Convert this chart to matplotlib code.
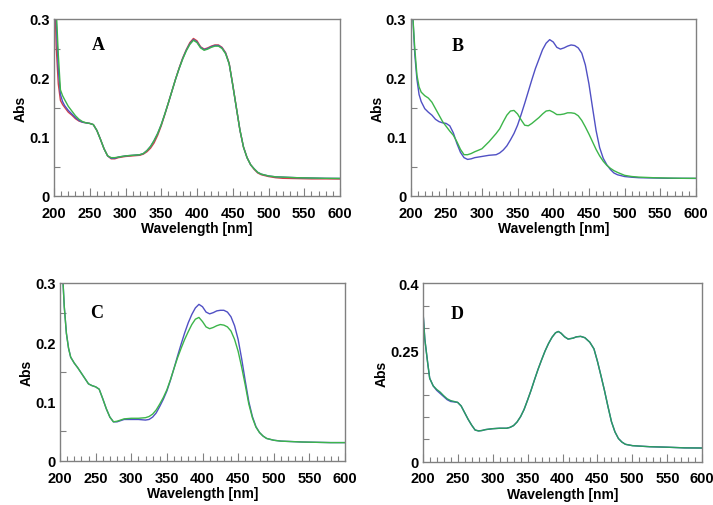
import matplotlib
matplotlib.use("Agg")
import matplotlib.pyplot as plt
from matplotlib.ticker import MultipleLocator, FixedLocator

# ---------------- data ----------------
wl = [200, 203, 206, 209, 212, 215, 220, 225, 230, 235, 240, 245, 250, 255, 260, 265,
      270, 275, 280, 285, 290, 300, 310, 320, 325, 330, 335, 340, 345, 350, 355, 360,
      365, 370, 375, 380, 385, 390, 395, 400, 405, 410, 415, 420, 425, 430, 435, 440,
      445, 450, 455, 460, 465, 470, 475, 480, 485, 490, 500, 510, 520, 540, 560, 580, 600]

a_blue = [0.40, 0.30, 0.215, 0.172, 0.160, 0.153, 0.145, 0.139, 0.133, 0.128, 0.125, 0.124, 0.123, 0.121, 0.111, 0.096,
          0.080, 0.068, 0.064, 0.064, 0.066, 0.068, 0.069, 0.070, 0.072, 0.077, 0.084, 0.094, 0.106, 0.121, 0.139, 0.158,
          0.178, 0.198, 0.216, 0.233, 0.247, 0.258, 0.265, 0.261, 0.252, 0.248, 0.250, 0.253, 0.255, 0.255, 0.251, 0.242,
          0.224, 0.188, 0.150, 0.112, 0.083, 0.065, 0.053, 0.046, 0.040, 0.037, 0.034, 0.0325, 0.032, 0.031, 0.0305, 0.030, 0.0298]
a_red = [0.40, 0.255, 0.190, 0.162, 0.155, 0.150, 0.142, 0.137, 0.131, 0.127, 0.125, 0.124, 0.123, 0.121, 0.111, 0.096,
         0.080, 0.068, 0.063, 0.063, 0.065, 0.067, 0.068, 0.069, 0.071, 0.075, 0.081, 0.090, 0.103, 0.119, 0.138, 0.158,
         0.178, 0.198, 0.217, 0.234, 0.248, 0.260, 0.267, 0.263, 0.253, 0.249, 0.251, 0.254, 0.256, 0.256, 0.252, 0.243,
         0.225, 0.189, 0.150, 0.112, 0.083, 0.065, 0.053, 0.045, 0.039, 0.036, 0.033, 0.031, 0.030, 0.0295, 0.029, 0.029, 0.0288]
a_green = [0.40, 0.32, 0.240, 0.180, 0.170, 0.163, 0.152, 0.144, 0.136, 0.130, 0.126, 0.124, 0.123, 0.121, 0.111, 0.096,
           0.080, 0.068, 0.065, 0.065, 0.066, 0.068, 0.069, 0.070, 0.072, 0.077, 0.084, 0.094, 0.106, 0.121, 0.139, 0.158,
           0.178, 0.198, 0.216, 0.232, 0.246, 0.257, 0.264, 0.260, 0.251, 0.247, 0.249, 0.252, 0.254, 0.254, 0.250, 0.241,
           0.224, 0.188, 0.150, 0.112, 0.083, 0.065, 0.053, 0.046, 0.040, 0.037, 0.034, 0.0325, 0.032, 0.031, 0.0305, 0.030, 0.0298]

b_blue = [0.40, 0.31, 0.240, 0.198, 0.172, 0.160, 0.148, 0.142, 0.137, 0.130, 0.126, 0.124, 0.123, 0.119, 0.107, 0.089,
          0.074, 0.065, 0.062, 0.063, 0.065, 0.067, 0.069, 0.070, 0.073, 0.078, 0.085, 0.095, 0.106, 0.120, 0.138, 0.157,
          0.177, 0.197, 0.216, 0.232, 0.248, 0.259, 0.265, 0.261, 0.252, 0.249, 0.251, 0.254, 0.256, 0.255, 0.251, 0.242,
          0.222, 0.190, 0.150, 0.111, 0.082, 0.064, 0.053, 0.045, 0.039, 0.036, 0.033, 0.0318, 0.031, 0.0305, 0.030, 0.030, 0.0298]
b_green = [0.40, 0.31, 0.250, 0.205, 0.185, 0.176, 0.170, 0.166, 0.159, 0.148, 0.137, 0.126, 0.118, 0.110, 0.103, 0.092,
           0.079, 0.070, 0.070, 0.072, 0.075, 0.080, 0.092, 0.106, 0.114, 0.126, 0.137, 0.144, 0.145, 0.139, 0.129, 0.120,
           0.119, 0.123, 0.128, 0.133, 0.139, 0.144, 0.145, 0.142, 0.138, 0.138, 0.139, 0.141, 0.141, 0.140, 0.136, 0.128,
           0.117, 0.105, 0.092, 0.079, 0.068, 0.059, 0.052, 0.047, 0.043, 0.040, 0.035, 0.033, 0.032, 0.031, 0.0305, 0.030, 0.030]

c_blue = [0.40, 0.33, 0.260, 0.215, 0.190, 0.175, 0.165, 0.157, 0.148, 0.139, 0.130, 0.127, 0.125, 0.121, 0.105, 0.088,
          0.074, 0.066, 0.066, 0.068, 0.070, 0.070, 0.070, 0.069, 0.070, 0.074, 0.081, 0.092, 0.104, 0.118, 0.136, 0.156,
          0.177, 0.197, 0.216, 0.233, 0.247, 0.258, 0.264, 0.260, 0.251, 0.248, 0.250, 0.253, 0.254, 0.254, 0.251, 0.243,
          0.228, 0.205, 0.172, 0.135, 0.100, 0.075, 0.058, 0.048, 0.042, 0.038, 0.035, 0.0335, 0.033, 0.032, 0.0315, 0.031, 0.031]
c_green = [0.40, 0.33, 0.260, 0.215, 0.190, 0.175, 0.165, 0.157, 0.148, 0.139, 0.130, 0.127, 0.125, 0.121, 0.105, 0.088,
           0.074, 0.066, 0.067, 0.069, 0.071, 0.072, 0.072, 0.073, 0.075, 0.079, 0.086, 0.096, 0.107, 0.120, 0.137, 0.156,
           0.174, 0.190, 0.205, 0.218, 0.230, 0.239, 0.242, 0.235, 0.226, 0.223, 0.225, 0.228, 0.230, 0.229, 0.226, 0.219,
           0.205, 0.185, 0.158, 0.128, 0.096, 0.073, 0.057, 0.048, 0.042, 0.038, 0.035, 0.0335, 0.033, 0.032, 0.0315, 0.031, 0.031]

wl_d = [200, 203, 207, 210, 215, 220, 225, 230, 235, 240, 245, 250, 255, 260, 265, 270, 275, 280,
        285, 290, 300, 310, 320, 325, 330, 335, 340, 345, 350, 355, 360, 365, 370, 375, 380, 385,
        390, 394, 398, 403, 408, 415, 420, 426, 432, 439, 445, 450, 455, 460, 465, 470, 475, 480,
        485, 490, 500, 510, 525, 550, 575, 600]
d_blue = [0.346, 0.275, 0.223, 0.187, 0.170, 0.160, 0.153, 0.146, 0.139, 0.135, 0.134, 0.133, 0.125, 0.110, 0.095, 0.082, 0.071, 0.069,
          0.070, 0.072, 0.074, 0.075, 0.075, 0.077, 0.081, 0.089, 0.101, 0.117, 0.138, 0.160, 0.184, 0.207, 0.228, 0.248, 0.265, 0.279,
          0.289, 0.292, 0.288, 0.280, 0.275, 0.277, 0.280, 0.281, 0.278, 0.268, 0.253, 0.225, 0.193, 0.160, 0.124, 0.090, 0.067, 0.052,
          0.044, 0.039, 0.036, 0.035, 0.0336, 0.0325, 0.031, 0.0307]
d_green = [0.346, 0.275, 0.223, 0.187, 0.170, 0.162, 0.156, 0.148, 0.141, 0.137, 0.135, 0.133, 0.125, 0.110, 0.095, 0.082, 0.071, 0.069,
           0.070, 0.072, 0.074, 0.075, 0.075, 0.077, 0.081, 0.089, 0.101, 0.117, 0.138, 0.160, 0.184, 0.207, 0.228, 0.248, 0.265, 0.279,
           0.289, 0.292, 0.288, 0.280, 0.275, 0.277, 0.280, 0.281, 0.278, 0.268, 0.253, 0.225, 0.193, 0.160, 0.124, 0.090, 0.067, 0.052,
           0.044, 0.039, 0.036, 0.035, 0.0336, 0.0325, 0.031, 0.0307]

x_ticks = [200, 250, 300, 350, 400, 450, 500, 550, 600]
abc_yticks = [0, 0.1, 0.2, 0.3]
abc_ylabels = ["0", "0.1", "0.2", "0.3"]
d_yticks = [0, 0.25, 0.4]
d_ylabels = ["0", "0.25", "0.4"]
panel_names = ["A", "B", "C", "D"]

# ---------------- style ----------------
BLUE = "#5050c4"
GREEN = "#3cb54a"
RED = "#d2404a"
DGREEN = "#2a9e5e"
SPINE = "#808080"
SANS = ["Liberation Sans", "DejaVu Sans"]
SERIF = ["Liberation Serif", "DejaVu Serif"]

fig = plt.figure(figsize=(7.13, 5.06), dpi=100)
W, H = 713, 506

def make_ax(l, t, r, b):
    return fig.add_axes([l / W, 1 - b / H, (r - l) / W, (b - t) / H])

axA = make_ax(54, 20, 340, 197)
axB = make_ax(410.5, 20, 696, 197)
axC = make_ax(60, 284, 345, 462)
axD = make_ax(422.7, 284.3, 702.3, 462.7)

def style(ax, ymax, yticks, ylabels, yminor):
    ax.set_xlim(200, 600)
    ax.set_ylim(0, ymax)
    for s in ax.spines.values():
        s.set_color(SPINE)
        s.set_linewidth(1.0)
    ax.xaxis.set_major_locator(FixedLocator(x_ticks))
    ax.xaxis.set_minor_locator(MultipleLocator(10))
    ax.set_xticklabels([str(v) for v in x_ticks])
    ax.yaxis.set_major_locator(FixedLocator(yticks))
    ax.set_yticklabels(ylabels)
    ax.yaxis.set_minor_locator(FixedLocator(yminor))
    ax.tick_params(axis="x", which="major", direction="in", length=6, width=0.8,
                   color=SPINE, pad=7, top=False)
    ax.tick_params(axis="x", which="minor", direction="in", length=3.5, width=0.8,
                   color=SPINE, top=False)
    ax.tick_params(axis="y", which="major", direction="in", length=0, pad=3, right=False)
    ax.tick_params(axis="y", which="minor", direction="in", length=4, width=0.8,
                   color=SPINE, right=False)
    for lab in ax.get_xticklabels() + ax.get_yticklabels():
        lab.set_fontfamily(SANS)
        lab.set_fontweight("bold")
        lab.set_fontsize(10.5)
    ax.set_xlabel("Wavelength [nm]", fontfamily=SANS, fontweight="bold", fontsize=10, labelpad=1)
    ax.set_ylabel("Abs", fontfamily=SANS, fontweight="bold", fontsize=10, labelpad=1)

abc_minor = [0.05, 0.15, 0.25]
d_minor = [0.05, 0.1, 0.15, 0.2, 0.25, 0.3, 0.35]

lw = 1.0
axA.plot(wl, a_red, color=RED, lw=lw)
axA.plot(wl, a_blue, color=BLUE, lw=lw)
axA.plot(wl, a_green, color=GREEN, lw=lw)
style(axA, 0.3, abc_yticks, abc_ylabels, abc_minor)

axB.plot(wl, b_blue, color=BLUE, lw=lw)
axB.plot(wl, b_green, color=GREEN, lw=lw)
style(axB, 0.3, abc_yticks, abc_ylabels, abc_minor)

axC.plot(wl, c_blue, color=BLUE, lw=lw)
axC.plot(wl, c_green, color=GREEN, lw=lw)
style(axC, 0.3, abc_yticks, abc_ylabels, abc_minor)

axD.plot(wl_d, d_blue, color=BLUE, lw=lw)
axD.plot(wl_d, d_green, color=DGREEN, lw=lw)
style(axD, 0.4, d_yticks, d_ylabels, d_minor)

label_pos = [(axA, 262, 0.257), (axB, 266, 0.255), (axC, 252, 0.25), (axD, 249, 0.333)]
for (ax, x, y), name in zip(label_pos, panel_names):
    ax.text(x, y, name, fontfamily=SERIF, fontweight="bold", fontsize=13,
            ha="center", va="center")

fig.savefig("out.png", dpi=100)
